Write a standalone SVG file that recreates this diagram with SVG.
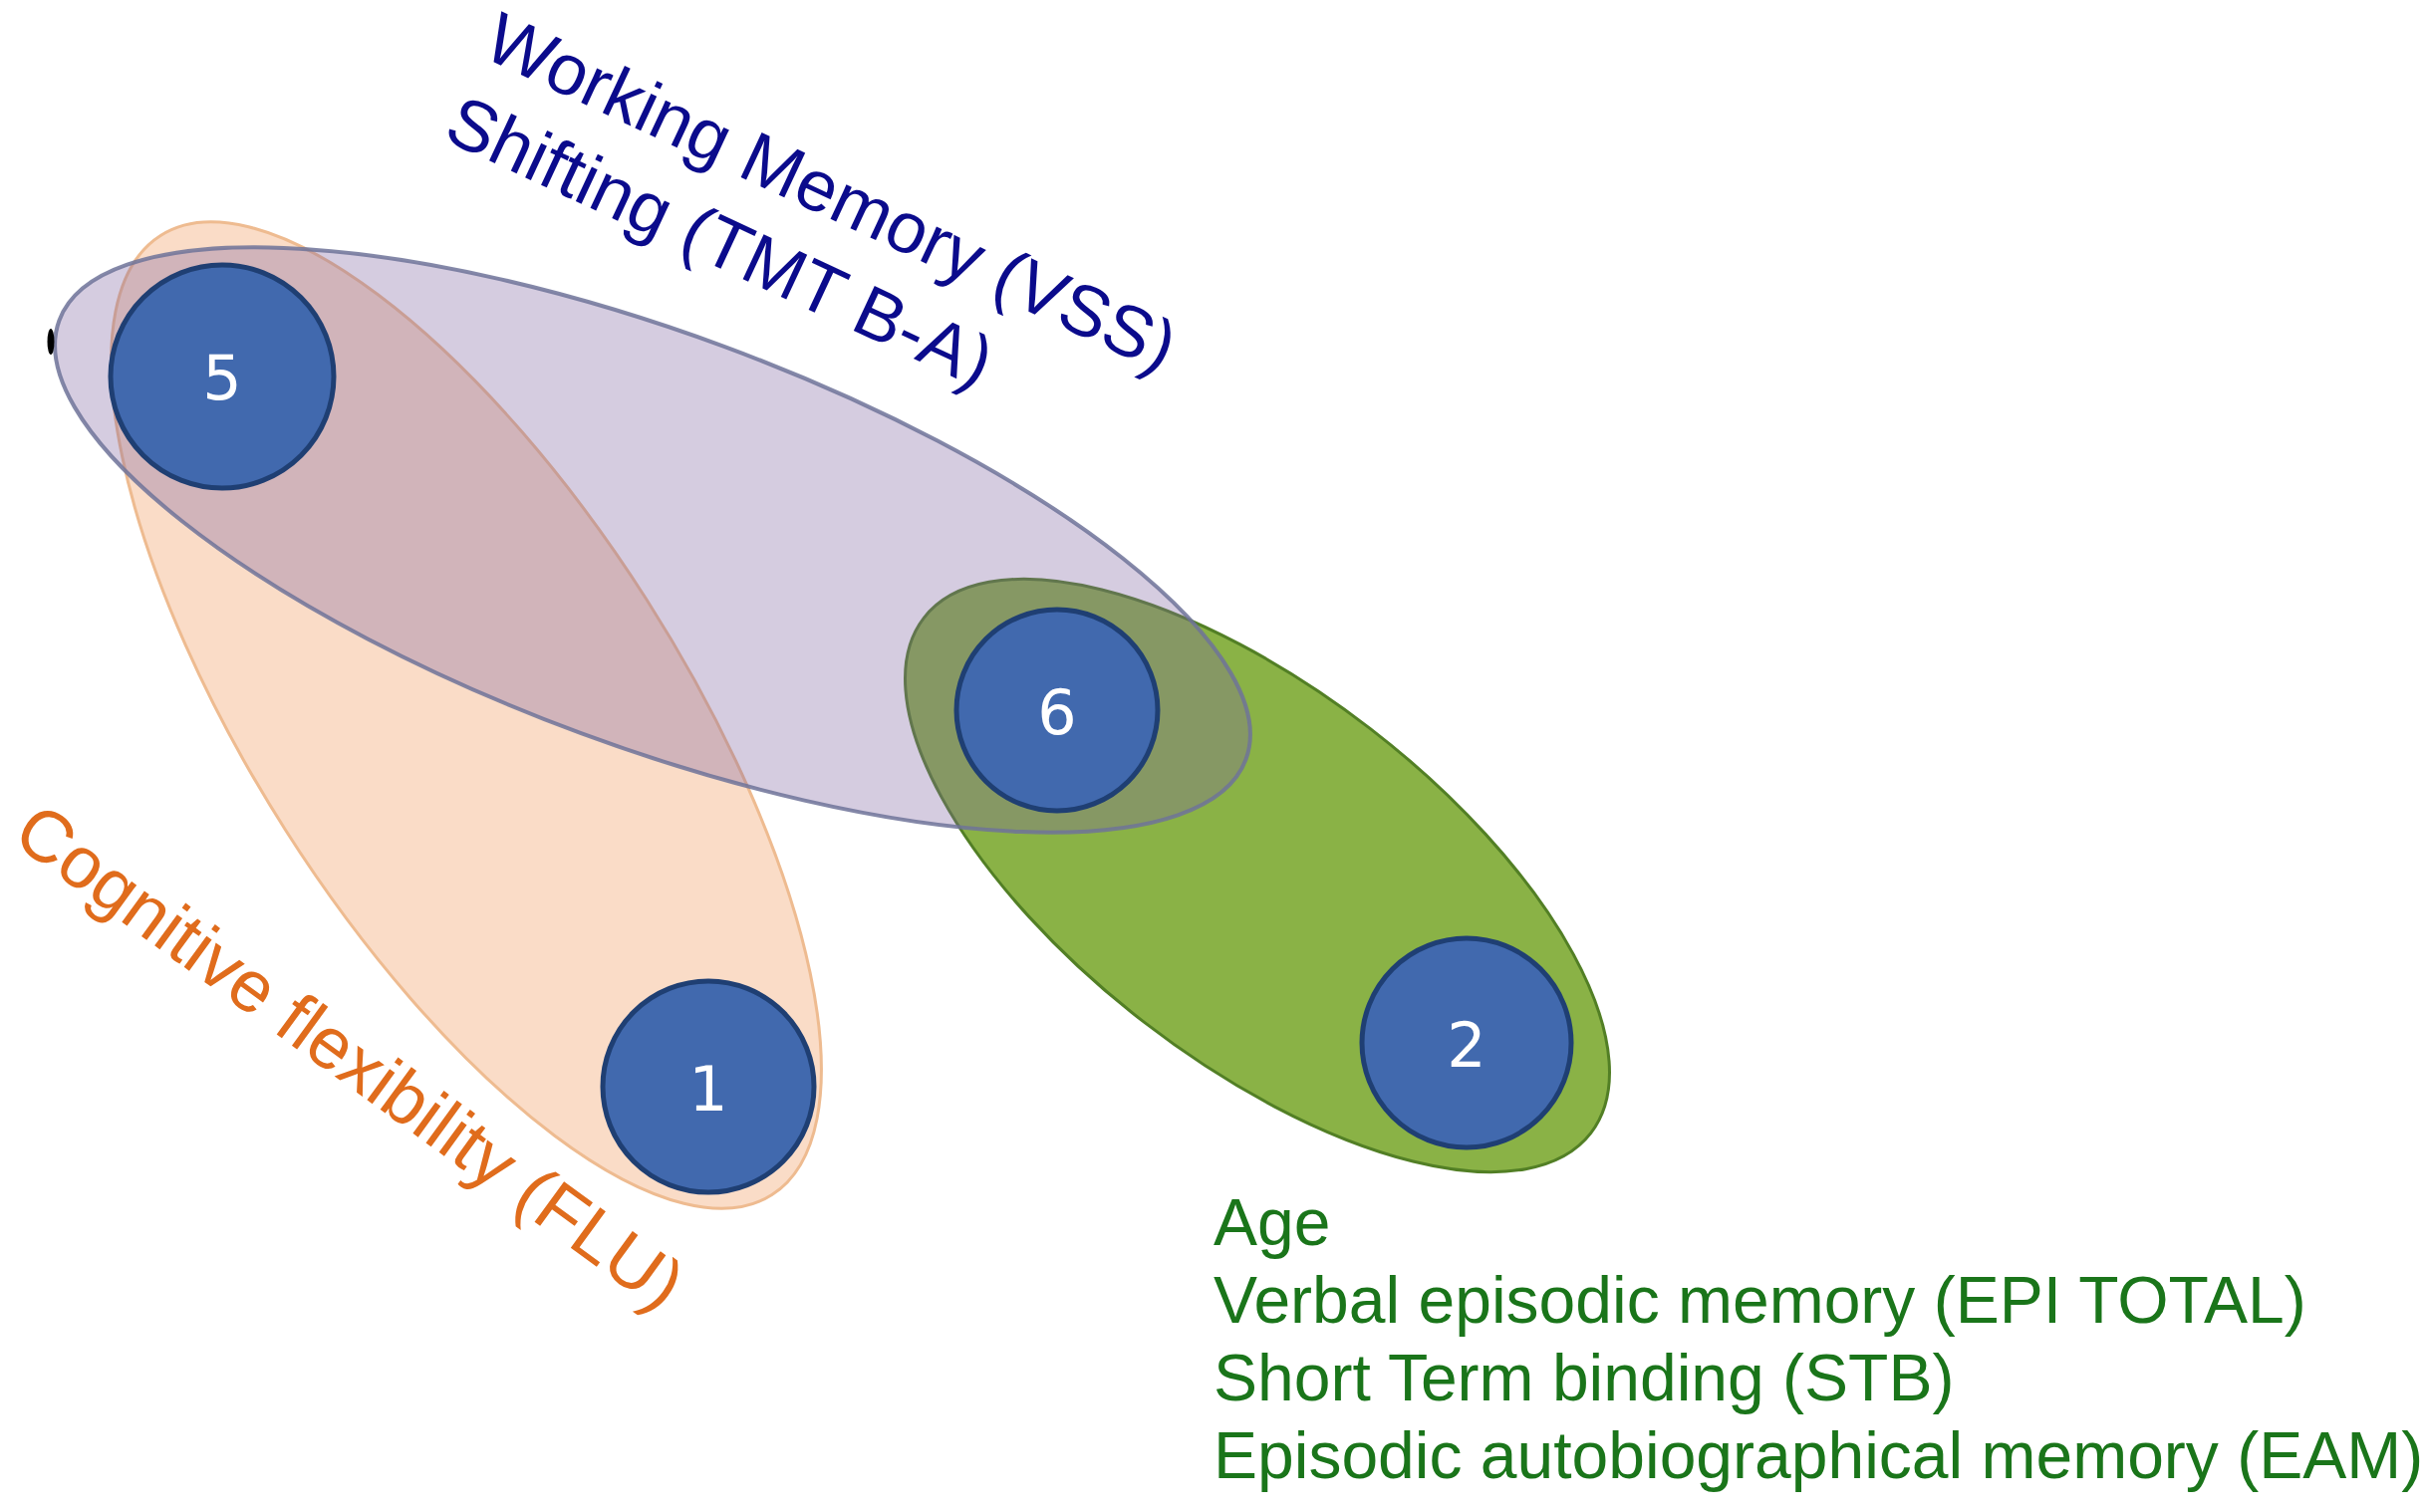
<svg xmlns="http://www.w3.org/2000/svg" width="2438" height="1518" viewBox="0 0 2438 1518">
<style>
.node circle { fill:#4169ae; stroke:#1f3f73; stroke-width:5; }
.num { font-family:"DejaVu Sans", sans-serif; font-size:62px; fill:#ffffff; text-anchor:middle; }
.lbl { font-family:"Liberation Sans", Arial, sans-serif; }
.blue { fill:#0b0b8c; font-size:72px; }
.orange { fill:#e06c1c; font-size:73px; }
.green { fill:#1a751a; font-size:66px; }
</style>
<rect width="2438" height="1518" fill="#ffffff"/>
<g id="sets">
<ellipse id="set-flu" cx="468" cy="718" rx="571" ry="215" transform="rotate(57.5 468 718)" fill="#f4b183" fill-opacity="0.45" stroke="#eebb90" stroke-width="3"/>
<ellipse id="set-memory" cx="1262" cy="879" rx="423" ry="186" transform="rotate(37.7 1262 879)" fill="#8ab246" stroke="#527f25" stroke-width="3"/>
<ellipse id="set-wm" cx="655" cy="542" rx="635" ry="207" transform="rotate(20.3 655 542)" fill="#8064a2" fill-opacity="0.33" stroke="#6f7399" stroke-opacity="0.85" stroke-width="4"/>
</g>
<g id="connectors"></g>
<g id="node-5" class="node"><circle cx="223" cy="378" r="112"/><text class="num" x="223" y="401">5</text></g>
<g id="node-6" class="node"><circle cx="1061" cy="713" r="101"/><text class="num" x="1061" y="737">6</text></g>
<g id="node-1" class="node"><circle cx="711" cy="1091" r="106"/><text class="num" x="711" y="1115">1</text></g>
<g id="node-2" class="node"><circle cx="1472" cy="1047" r="105"/><text class="num" x="1472" y="1071">2</text></g>
<ellipse cx="51" cy="343" rx="3.5" ry="13" fill="#000000"/>
<g id="labels">
<text class="lbl blue" transform="translate(482 56) rotate(25)">Working Memory (VSS)</text>
<text class="lbl blue" transform="translate(443 139) rotate(25)">Shifting (TMT B-A)</text>
<text class="lbl orange" transform="translate(10 844) rotate(36)">Cognitive flexibility (FLU)</text>
<text class="lbl green" x="1218" y="1250">Age</text>
<text class="lbl green" x="1218" y="1328">Verbal episodic memory (EPI TOTAL)</text>
<text class="lbl green" x="1218" y="1406">Short Term binding (STB)</text>
<text class="lbl green" x="1218" y="1484">Episodic autobiographical memory (EAM)</text>
</g>
</svg>
